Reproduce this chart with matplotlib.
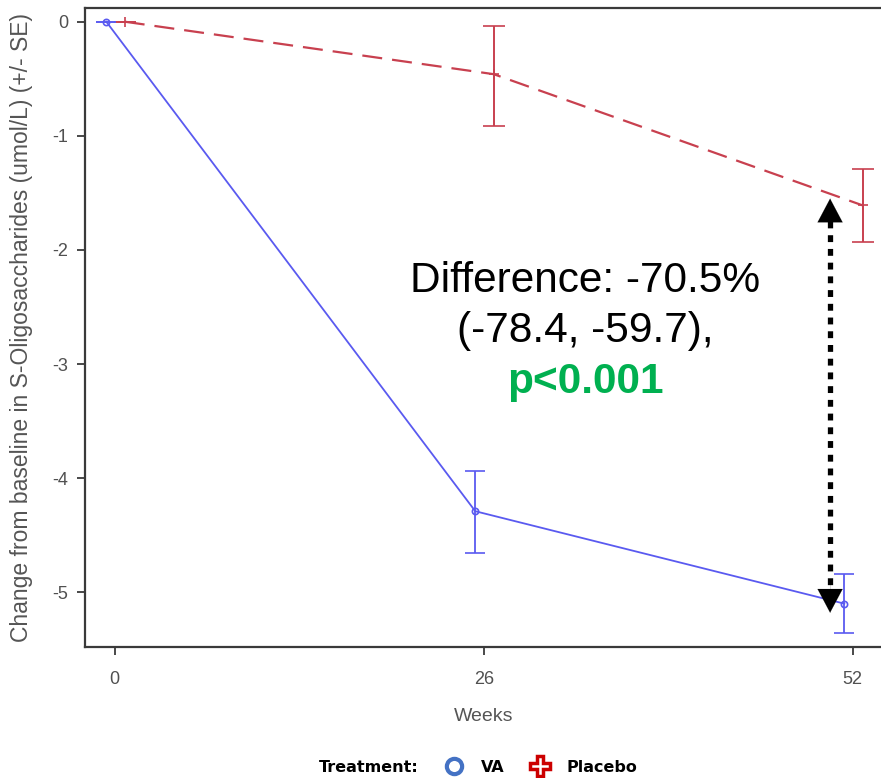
import matplotlib.pyplot as plt
from matplotlib.lines import Line2D

plt.rcParams['font.family'] = ['Liberation Sans', 'DejaVu Sans']

# Data
weeks = [0, 26, 52]
va_mean = [0.0, -4.29, -5.10]
va_se_lo = [0.0, 0.37, 0.26]
va_se_hi = [0.0, 0.35, 0.26]
placebo_mean = [0.0, -0.46, -1.61]
placebo_se_lo = [0.0, 0.45, 0.32]
placebo_se_hi = [0.0, 0.42, 0.32]

# small horizontal offsets so the two groups don't overlap
va_shift = -0.6
placebo_shift = 0.7

# double arrow showing the difference at week 52
arrow_x = 50.4
arrow_top = -1.55
arrow_bottom = -5.18

va_color = '#5a5af0'
placebo_color = '#c8404f'

fig = plt.figure(figsize=(8.81, 7.78), dpi=100)
ax = fig.add_axes([85 / 881, 131 / 778, 1 - 85 / 881 + 0.001, 639 / 778])

va_x = [w + va_shift for w in weeks]
pl_x = [w + placebo_shift for w in weeks]

ax.errorbar(pl_x, placebo_mean, yerr=[placebo_se_lo, placebo_se_hi],
            color=placebo_color, lw=1.6, dashes=(9, 4.5), marker='+', ms=7,
            mew=1.2, capsize=8, elinewidth=1.4, capthick=1.4)
ax.errorbar(va_x, va_mean, yerr=[va_se_lo, va_se_hi],
            color=va_color, lw=1.3, marker='o', ms=4.5, mfc='none',
            mew=1.2, capsize=7, elinewidth=1.3, capthick=1.3)

# dotted double-headed arrow
ax.plot([arrow_x, arrow_x], [arrow_top - 0.2, arrow_bottom + 0.2],
        color='black', lw=3.8, dashes=(1.3, 1.3), dash_capstyle='butt')
for tip, tail in [(arrow_top, arrow_top - 0.25), (arrow_bottom, arrow_bottom + 0.25)]:
    ax.annotate('', xy=(arrow_x, tip), xytext=(arrow_x, tail),
                arrowprops=dict(arrowstyle='-|>,head_length=0.85,head_width=0.45',
                                color='black', lw=0.1, mutation_scale=20,
                                shrinkA=0, shrinkB=0))

ax.set_xlim(-2.1, 54.05)
ax.set_ylim(-5.48, 0.12)
ax.set_xticks(weeks)
ax.set_yticks([0, -1, -2, -3, -4, -5])
ax.set_yticklabels(['0', '-1', '-2', '-3', '-4', '-5'])

for side in ['left', 'bottom', 'top']:
    ax.spines[side].set_color('#3a3a3a')
    ax.spines[side].set_linewidth(1.6)
ax.spines['right'].set_visible(False)

ax.tick_params(axis='both', direction='out', length=6, width=1.3,
               color='#3a3a3a', labelcolor='#505050', labelsize=13, pad=6)
ax.tick_params(axis='x', pad=11)

ax.set_xlabel('Weeks', color='#555555', fontsize=14, labelpad=15)
ax.set_ylabel('Change from baseline in S-Oligosaccharides (umol/L) (+/- SE)',
              color='#555555', fontsize=16.5, labelpad=14)

# annotation text
fig.text(585 / 881, 1 - 281 / 778, 'Difference: -70.5%', fontsize=30.5,
         ha='center', va='center', color='black')
fig.text(585 / 881, 1 - 331 / 778, '(-78.4, -59.7),', fontsize=30.5,
         ha='center', va='center', color='black')
fig.text(585 / 881, 1 - 382 / 778, 'p<0.001', fontsize=30.5, fontweight='bold',
         ha='center', va='center', color='#00b050')

# legend at the bottom
fig.text(369 / 881, 1 - 768 / 778, 'Treatment:', fontsize=11.5, fontweight='bold',
         family='DejaVu Sans', ha='center', va='center')
handles = [
    Line2D([], [], ls='none', marker='o', ms=11, mfc='none', mec='#4472c4', mew=3),
    Line2D([], [], ls='none', marker='P', ms=14, mfc='white', mec='#cc0000', mew=2.5),
]
fig.legend(handles, ['VA', 'Placebo'], loc='center', bbox_to_anchor=(541 / 881, 1 - 767 / 778),
           ncol=2, frameon=False, prop={'family': 'DejaVu Sans', 'weight': 'bold', 'size': 11.5},
           handletextpad=1.1, columnspacing=1.6, handlelength=1.2)

fig.savefig('out.png', dpi=100)
